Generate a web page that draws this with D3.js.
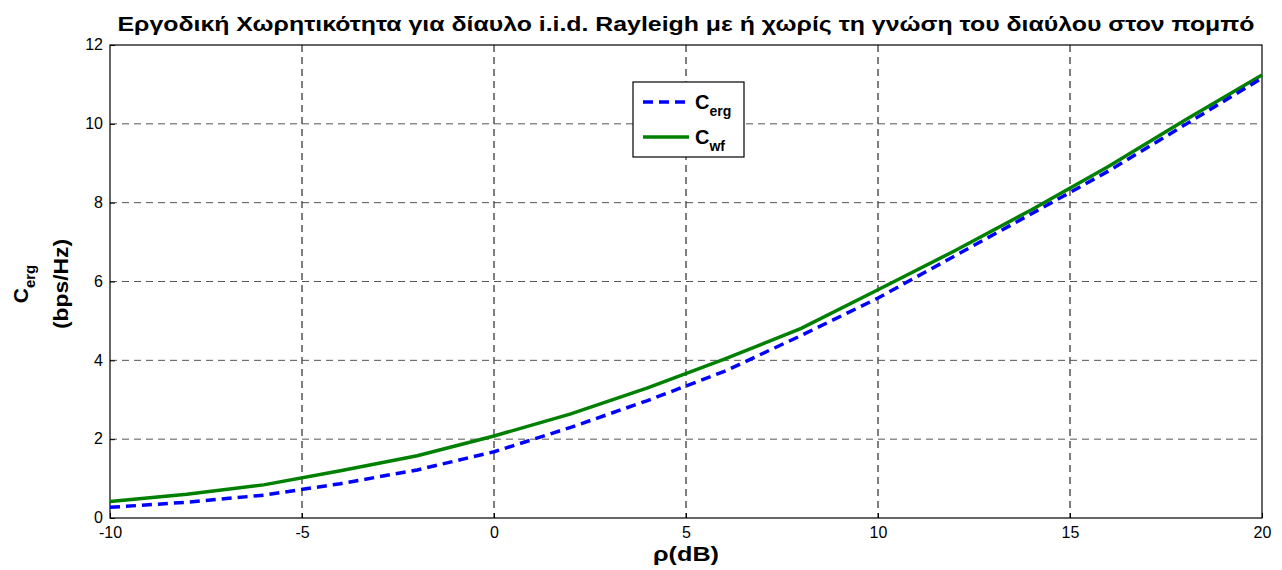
<!DOCTYPE html>
<html>
<head>
<meta charset="utf-8">
<script src="https://cdn.jsdelivr.net/npm/d3@7"></script>
<style>
  body { margin: 0; background: #fff; }
  text { font-family: "Liberation Sans", Arial, sans-serif; }
</style>
</head>
<body>
<div id="chart"></div>
<script>
const margin = {top: 45, right: 20, bottom: 52, left: 110}, width = 1152, height = 473;

// SNR in dB
const snr = [-10, -8, -6, -4, -2, 0, 2, 4, 6, 8, 10, 12, 14, 16, 18, 20]
// ergodic capacity without CSI at tx (bps/Hz)
const cErg = [0.27, 0.40, 0.58, 0.87, 1.22, 1.68, 2.30, 2.98, 3.72, 4.63, 5.58, 6.65, 7.72, 8.80, 9.98, 11.16]
// with water filling
const cWf = [0.42, 0.60, 0.84, 1.20, 1.58, 2.08, 2.64, 3.30, 4.03, 4.81, 5.79, 6.78, 7.82, 8.92, 10.10, 11.24]
const xTicks = [-10, -5, 0, 5, 10, 15, 20]
const yTicks = [0, 2, 4, 6, 8, 10, 12]

const xScale = d3.scaleLinear().domain([-10, 20]).range([0, width]);
const yScale = d3.scaleLinear().domain([0, 12]).range([height, 0]);

const root = d3.select("#chart").append("svg")
    .attr("width", 1282)
    .attr("height", 570)

const svg = root.append("g")
    .attr("transform", "translate(" + margin.left + "," + margin.top + ")");

// vertical gridlines
svg.append("g")
    .selectAll("line")
    .data(xTicks.slice(1, -1))
    .enter().append("line")
    .attr("x1", d => xScale(d)).attr("x2", d => xScale(d))
    .attr("y1", 0).attr("y2", height)
    .attr("stroke", "#000")
    .attr("stroke-dasharray", "7,5")

// horizontal gridlines
svg.append("g")
    .selectAll("line")
    .data(yTicks.slice(1, -1))
    .enter().append("line")
    .attr("y1", d => yScale(d)).attr("y2", d => yScale(d))
    .attr("x1", 0).attr("x2", width)
    .attr("stroke", "#555")
    .attr("stroke-dasharray", "7,5")

// axes
const xAxis = svg.append("g")
    .attr("transform", "translate(0," + height + ")")
    .call(d3.axisBottom(xScale).tickValues(xTicks).tickFormat(d => String(d))
        .tickSizeInner(-5).tickSizeOuter(0).tickPadding(9))
const yAxis = svg.append("g")
    .call(d3.axisLeft(yScale).tickValues(yTicks).tickFormat(d => String(d))
        .tickSizeInner(-5).tickSizeOuter(0).tickPadding(7))
;[xAxis, yAxis].forEach(a => {
    a.select(".domain").remove()
    a.selectAll("text").style("font-size", "16px").attr("fill", "#000")
})
yAxis.selectAll("text").attr("dy", "0.3em")

// frame
svg.append("rect")
    .attr("width", width).attr("height", height)
    .attr("fill", "none").attr("stroke", "#000").attr("stroke-width", 1.2)

const line = d3.line()
    .x(d => xScale(d[0]))
    .y(d => yScale(d[1]))

svg.append("path")
    .datum(snr.map((s, i) => [s, cWf[i]]))
    .attr("d", line)
    .attr("fill", "none")
    .attr("stroke", "#008000")
    .attr("stroke-width", 3.5)

svg.append("path")
    .datum(snr.map((s, i) => [s, cErg[i]]))
    .attr("d", line)
    .attr("fill", "none")
    .attr("stroke", "#0000ff")
    .attr("stroke-width", 3.5)
    .attr("stroke-dasharray", "10,6")

// legend
const legend = root.append("g").attr("transform", "translate(633,82)")
legend.append("rect")
    .attr("width", 111).attr("height", 75)
    .attr("fill", "#fff").attr("stroke", "#000").attr("stroke-width", 1.2)
const items = [
    {sub: "erg", color: "#0000ff", dash: "10,6", y: 20},
    {sub: "wf", color: "#008000", dash: null, y: 55}
]
items.forEach(it => {
    legend.append("line")
        .attr("x1", 10).attr("x2", 56)
        .attr("y1", it.y).attr("y2", it.y)
        .attr("stroke", it.color).attr("stroke-width", 3.5)
        .attr("stroke-dasharray", it.dash)
    const t = legend.append("text")
        .attr("x", 62).attr("y", it.y + 7)
        .style("font-size", "20px").style("font-weight", "bold")
    t.append("tspan").text("C")
    t.append("tspan").attr("dy", 7).style("font-size", "14px").text(it.sub)
})

// title
root.append("text")
    .attr("x", margin.left + width / 2).attr("y", 31)
    .attr("text-anchor", "middle")
    .attr("textLength", 1137)
    .attr("lengthAdjust", "spacingAndGlyphs")
    .style("font-size", "20px").style("font-weight", "bold")
    .text("Εργοδική Χωρητικότητα για δίαυλο i.i.d. Rayleigh με ή χωρίς τη γνώση του διαύλου στον πομπό")

// x label
root.append("text")
    .attr("x", margin.left + width / 2).attr("y", 561)
    .attr("text-anchor", "middle")
    .attr("textLength", 66)
    .attr("lengthAdjust", "spacingAndGlyphs")
    .style("font-size", "21px").style("font-weight", "bold")
    .text("ρ(dB)")

// y label, two lines
const yl = root.append("g").attr("transform", "translate(0,284) rotate(-90)")
const l1 = yl.append("text")
    .attr("x", 0).attr("y", 28)
    .attr("text-anchor", "middle")
    .style("font-size", "21px").style("font-weight", "bold")
l1.append("tspan").text("C")
l1.append("tspan").attr("dy", 7).style("font-size", "15px").text("erg")
yl.append("text")
    .attr("x", 0).attr("y", 68)
    .attr("text-anchor", "middle")
    .attr("textLength", 90)
    .attr("lengthAdjust", "spacingAndGlyphs")
    .style("font-size", "21px").style("font-weight", "bold")
    .text("(bps/Hz)")
</script>
</body>
</html>
